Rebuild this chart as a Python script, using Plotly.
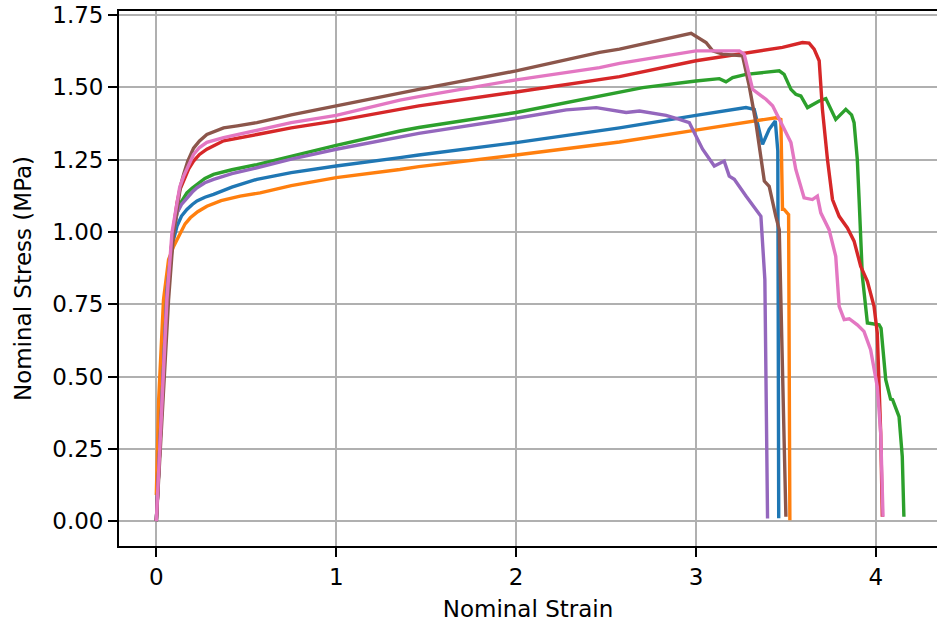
import plotly.graph_objects as go

blue_x = [0, 0.03, 0.06, 0.09, 0.115, 0.14, 0.17, 0.2, 0.226, 0.27, 0.318, 0.42, 0.559, 0.75, 1.0, 1.354, 1.459, 2.0, 2.464, 2.575, 3.0, 3.278, 3.324, 3.37, 3.407, 3.441, 3.455, 3.46]
blue_y = [0, 0.40, 0.78, 0.96, 1.02, 1.055, 1.078, 1.095, 1.107, 1.12, 1.13, 1.155, 1.182, 1.205, 1.228, 1.257, 1.266, 1.309, 1.349, 1.36, 1.403, 1.43, 1.424, 1.303, 1.355, 1.384, 1.28, 0.01]

orange_x = [0, 0.013, 0.04, 0.068, 0.096, 0.133, 0.16, 0.189, 0.23, 0.281, 0.36, 0.466, 0.577, 0.75, 1.0, 1.354, 1.459, 2.0, 2.464, 2.575, 3.0, 3.444, 3.472, 3.481, 3.49, 3.515, 3.522]
orange_y = [0.09, 0.419, 0.766, 0.904, 0.95, 0.997, 1.028, 1.049, 1.07, 1.089, 1.108, 1.124, 1.135, 1.16, 1.188, 1.216, 1.226, 1.266, 1.303, 1.311, 1.352, 1.395, 1.389, 1.078, 1.078, 1.06, 0.003]

green_x = [0, 0.03, 0.06, 0.09, 0.115, 0.14, 0.17, 0.2, 0.226, 0.27, 0.318, 0.42, 0.559, 0.75, 1.0, 1.354, 1.459, 2.0, 2.464, 2.575, 2.704, 3.0, 3.13, 3.167, 3.204, 3.278, 3.463, 3.49, 3.528, 3.555, 3.583, 3.62, 3.685, 3.722, 3.777, 3.833, 3.865, 3.879, 3.897, 3.907, 3.925, 3.953, 4.018, 4.029, 4.055, 4.082, 4.093, 4.129, 4.147, 4.156]
green_y = [0, 0.40, 0.80, 0.98, 1.066, 1.105, 1.135, 1.152, 1.164, 1.185, 1.199, 1.215, 1.233, 1.262, 1.299, 1.349, 1.361, 1.413, 1.47, 1.485, 1.499, 1.522, 1.53, 1.519, 1.534, 1.545, 1.557, 1.545, 1.493, 1.476, 1.47, 1.43, 1.453, 1.461, 1.389, 1.424, 1.405, 1.378, 1.251, 1.112, 0.847, 0.685, 0.679, 0.667, 0.489, 0.422, 0.42, 0.361, 0.223, 0.015]

red_x = [0, 0.03, 0.06, 0.09, 0.115, 0.13, 0.152, 0.18, 0.207, 0.24, 0.281, 0.374, 0.559, 0.75, 1.0, 1.354, 1.459, 2.0, 2.464, 2.575, 3.0, 3.296, 3.481, 3.592, 3.629, 3.657, 3.685, 3.703, 3.731, 3.759, 3.796, 3.842, 3.879, 3.916, 3.953, 3.99, 4.008, 4.027, 4.036]
red_y = [0, 0.38, 0.78, 0.99, 1.10, 1.145, 1.18, 1.218, 1.245, 1.268, 1.286, 1.315, 1.337, 1.36, 1.384, 1.424, 1.436, 1.484, 1.528, 1.537, 1.592, 1.621, 1.638, 1.655, 1.653, 1.632, 1.592, 1.424, 1.251, 1.112, 1.054, 1.014, 0.968, 0.881, 0.829, 0.743, 0.65, 0.304, 0.015]

purple_x = [0, 0.03, 0.06, 0.09, 0.115, 0.14, 0.17, 0.2, 0.226, 0.27, 0.318, 0.42, 0.559, 0.75, 1.0, 1.354, 1.459, 2.0, 2.279, 2.446, 2.575, 2.612, 2.686, 2.834, 2.908, 2.963, 2.991, 3.037, 3.102, 3.157, 3.185, 3.213, 3.278, 3.333, 3.361, 3.383, 3.398]
purple_y = [0, 0.40, 0.80, 0.98, 1.066, 1.095, 1.118, 1.138, 1.153, 1.17, 1.182, 1.202, 1.222, 1.252, 1.286, 1.329, 1.341, 1.393, 1.422, 1.43, 1.418, 1.413, 1.418, 1.403, 1.389, 1.378, 1.343, 1.286, 1.228, 1.245, 1.193, 1.182, 1.124, 1.078, 1.054, 0.835, 0.009]

brown_x = [0, 0.035, 0.068, 0.095, 0.12, 0.135, 0.152, 0.175, 0.207, 0.24, 0.281, 0.32, 0.374, 0.45, 0.559, 0.75, 1.0, 1.354, 1.459, 2.0, 2.464, 2.575, 2.973, 3.056, 3.093, 3.148, 3.259, 3.296, 3.333, 3.38, 3.407, 3.444, 3.463, 3.50]
brown_y = [0, 0.40, 0.766, 0.99, 1.11, 1.16, 1.20, 1.245, 1.29, 1.315, 1.337, 1.348, 1.36, 1.367, 1.378, 1.405, 1.436, 1.482, 1.493, 1.557, 1.621, 1.632, 1.687, 1.655, 1.626, 1.615, 1.609, 1.505, 1.378, 1.176, 1.158, 1.054, 1.008, 0.015]

pink_x = [0, 0.032, 0.059, 0.087, 0.115, 0.13, 0.152, 0.18, 0.207, 0.24, 0.281, 0.374, 0.559, 0.75, 1.0, 1.354, 1.459, 2.0, 2.464, 2.575, 3.0, 3.241, 3.268, 3.287, 3.315, 3.352, 3.389, 3.426, 3.472, 3.528, 3.555, 3.601, 3.647, 3.675, 3.694, 3.74, 3.777, 3.796, 3.824, 3.852, 3.897, 3.934, 3.971, 4.008, 4.027, 4.04]
pink_y = [0, 0.419, 0.766, 0.997, 1.112, 1.155, 1.193, 1.235, 1.268, 1.292, 1.31, 1.326, 1.352, 1.378, 1.403, 1.456, 1.468, 1.526, 1.568, 1.583, 1.626, 1.626, 1.615, 1.568, 1.493, 1.476, 1.459, 1.436, 1.378, 1.309, 1.216, 1.118, 1.112, 1.124, 1.066, 1.008, 0.916, 0.743, 0.697, 0.70, 0.679, 0.656, 0.593, 0.465, 0.304, 0.015]

series = [
    (blue_x, blue_y, "#1f77b4"),
    (orange_x, orange_y, "#ff7f0e"),
    (green_x, green_y, "#2ca02c"),
    (red_x, red_y, "#d62728"),
    (purple_x, purple_y, "#9467bd"),
    (brown_x, brown_y, "#8c564b"),
    (pink_x, pink_y, "#e377c2"),
]

x_ticks = [0, 1, 2, 3, 4]
y_ticks = [0.0, 0.25, 0.5, 0.75, 1.0, 1.25, 1.5, 1.75]

fig = go.Figure()
for xs, ys, c in series:
    fig.add_trace(go.Scatter(x=xs, y=ys, mode="lines",
                             line=dict(color=c, width=3.4), showlegend=False))

font = dict(family="DejaVu Sans", size=23, color="black")
fig.update_layout(
    width=937, height=626,
    margin=dict(l=119, r=0, t=11, b=80),
    paper_bgcolor="white", plot_bgcolor="white",
    font=font,
)
fig.update_xaxes(
    range=[-0.2075, 4.34], tickvals=x_ticks, ticktext=[str(v) for v in x_ticks],
    showgrid=True, gridcolor="#b0b0b0", gridwidth=1.9, zeroline=False,
    showline=True, linecolor="black", linewidth=1.8, mirror=True,
    ticks="outside", ticklen=9, tickwidth=1.8, tickcolor="black",
    title=dict(text="Nominal Strain", font=font, standoff=12),
)
fig.update_yaxes(
    range=[-0.086, 1.764], tickvals=y_ticks, ticktext=[f"{v:.2f}" for v in y_ticks],
    showgrid=True, gridcolor="#b0b0b0", gridwidth=1.9, zeroline=False,
    showline=True, linecolor="black", linewidth=1.8, mirror=False,
    ticks="outside", ticklen=9, tickwidth=1.8, tickcolor="black",
    title=dict(text="Nominal Stress (MPa)", font=font, standoff=14),
)
fig.write_html("out.html")
